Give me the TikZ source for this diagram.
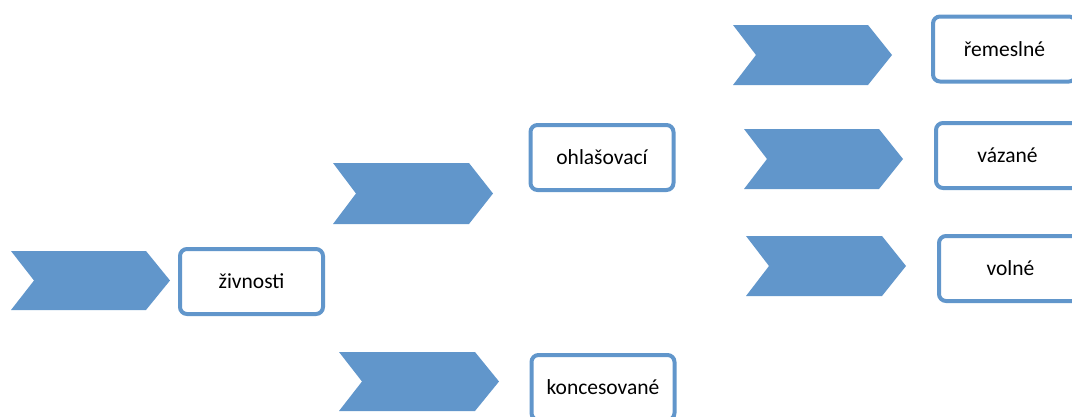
\documentclass[tikz,border=0pt]{standalone}
\usepackage{fontspec}
\setmainfont{Carlito}
\definecolor{chevblue}{RGB}{97,150,203}
\newcommand\chevronshape[4]{%
  \fill[chevfill] (#1,#2) -- ({#4-24},#2) -- (#4,{(#2+#3)/2}) -- ({#4-24},#3) -- (#1,#3) -- ({#1+23},{(#2+#3)/2}) -- cycle;}
\newcommand\cuttext[1]{\makebox[143pt]{#1}\hspace{20pt}}
\tikzset{
  chevfill/.style={fill=chevblue},
  itembox/.style={draw=chevblue, line width=4pt, fill=white, rounded corners=7pt,
    minimum width=143pt, minimum height=65pt, inner sep=0pt,
    font=\fontsize{21.5}{25}\selectfont, text=black},
  cutbox/.style={itembox, anchor=west}
}
\begin{document}
\begin{tikzpicture}[x=1pt,y=-1pt]
\useasboundingbox (0,0) rectangle (1072,416);
\clip (0,0) rectangle (1072,416);
% chevrons
\chevronshape{11}{251}{310}{170}
\chevronshape{333}{163}{224}{493}
\chevronshape{339}{352}{411}{499}
\chevronshape{733}{25}{85}{892}
\chevronshape{744}{129}{189}{903}
\chevronshape{746}{236}{296}{906}
% boxes
\node[itembox] (zivnosti) at (251.5,281.5) {živnosti};
\node[itembox] (ohlasovaci) at (602,157.5) {ohlašovací};
\node[itembox] (koncesovane) at (603,387.5) {koncesované};
\node[cutbox] (remeslne) at (931,49) {\cuttext{řemeslné}};
\node[cutbox] (vazane) at (934,155.5) {\cuttext{vázané}};
\node[cutbox] (volne) at (937,268.5) {\cuttext{volné}};
\end{tikzpicture}
\end{document}
